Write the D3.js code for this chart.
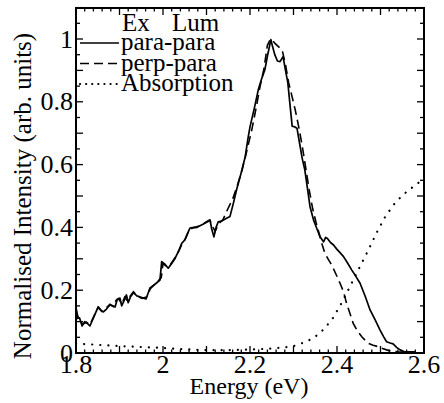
<!DOCTYPE html>
<html><head><meta charset="utf-8">
<script src="https://cdn.jsdelivr.net/npm/d3@7/dist/d3.min.js"></script>
<style>body{margin:0;background:#fff}</style>
</head><body><svg id="c" width="444" height="403"></svg>
<script>
const paraE=[1.800,1.803,1.808,1.814,1.820,1.826,1.832,1.842,1.851,1.858,1.863,1.870,1.878,1.884,1.890,1.895,1.901,1.905,1.910,1.916,1.920,1.925,1.932,1.940,1.950,1.961,1.970,1.978,1.985,1.993,1.997,2.005,2.012,2.020,2.028,2.036,2.043,2.050,2.058,2.062,2.070,2.077,2.085,2.093,2.100,2.108,2.112,2.117,2.122,2.127,2.135,2.145,2.154,2.162,2.169,2.179,2.189,2.195,2.200,2.210,2.219,2.226,2.234,2.240,2.248,2.252,2.257,2.263,2.269,2.276,2.281,2.287,2.292,2.297,2.303,2.308,2.315,2.320,2.326,2.332,2.338,2.346,2.354,2.361,2.369,2.374,2.378,2.385,2.392,2.400,2.408,2.415,2.425,2.434,2.443,2.453,2.465,2.476,2.488,2.499,2.507,2.514,2.522,2.529,2.537,2.545,2.555,2.565,2.579];
const paraV=[0.148,0.110,0.112,0.086,0.100,0.094,0.086,0.118,0.147,0.135,0.131,0.140,0.153,0.150,0.147,0.172,0.175,0.150,0.165,0.185,0.160,0.178,0.192,0.182,0.177,0.172,0.207,0.215,0.223,0.232,0.291,0.282,0.270,0.285,0.302,0.325,0.349,0.360,0.386,0.398,0.400,0.402,0.405,0.411,0.418,0.424,0.395,0.370,0.400,0.418,0.420,0.428,0.435,0.478,0.519,0.570,0.625,0.680,0.720,0.780,0.838,0.870,0.901,0.945,0.998,0.975,0.950,0.930,0.928,0.944,0.905,0.860,0.790,0.722,0.720,0.716,0.660,0.620,0.583,0.525,0.466,0.424,0.395,0.370,0.354,0.368,0.365,0.352,0.344,0.330,0.318,0.307,0.285,0.264,0.245,0.222,0.180,0.137,0.105,0.073,0.052,0.036,0.032,0.029,0.018,0.010,0.004,0.004,0.004];
const perpE=[1.800,1.804,1.810,1.816,1.824,1.832,1.842,1.851,1.860,1.868,1.878,1.886,1.892,1.899,1.905,1.912,1.918,1.924,1.932,1.942,1.952,1.962,1.971,1.980,1.988,1.996,2.000,2.008,2.016,2.025,2.034,2.043,2.052,2.060,2.068,2.078,2.088,2.098,2.108,2.114,2.120,2.128,2.138,2.146,2.160,2.170,2.181,2.192,2.204,2.214,2.223,2.232,2.240,2.247,2.252,2.258,2.266,2.274,2.282,2.289,2.297,2.304,2.312,2.320,2.328,2.336,2.344,2.352,2.361,2.366,2.372,2.380,2.388,2.398,2.407,2.415,2.422,2.430,2.437,2.447,2.457,2.465,2.472,2.483,2.495,2.505,2.514,2.525,2.540,2.560];
const perpV=[0.140,0.118,0.100,0.092,0.098,0.090,0.120,0.145,0.132,0.142,0.155,0.148,0.168,0.172,0.155,0.178,0.166,0.180,0.195,0.180,0.174,0.178,0.205,0.218,0.228,0.240,0.285,0.275,0.280,0.298,0.318,0.345,0.365,0.392,0.398,0.400,0.408,0.415,0.422,0.402,0.388,0.412,0.425,0.450,0.490,0.530,0.578,0.640,0.710,0.780,0.848,0.905,0.980,1.000,0.995,0.985,0.975,0.965,0.915,0.860,0.815,0.774,0.720,0.660,0.590,0.520,0.460,0.415,0.370,0.345,0.318,0.298,0.280,0.250,0.222,0.195,0.158,0.125,0.095,0.070,0.052,0.040,0.031,0.025,0.020,0.014,0.010,0.006,0.004,0.003];
const absE=[1.80,1.85,1.90,1.95,2.00,2.05,2.10,2.15,2.20,2.25,2.28,2.30,2.33,2.35,2.37,2.39,2.41,2.43,2.45,2.47,2.49,2.51,2.53,2.55,2.57,2.59,2.60];
const absV=[0.030,0.026,0.022,0.019,0.016,0.012,0.009,0.009,0.011,0.014,0.018,0.022,0.036,0.052,0.076,0.110,0.158,0.212,0.268,0.322,0.380,0.432,0.472,0.502,0.524,0.545,0.552];
const xTicks=[1.8,2,2.2,2.4,2.6];
const xTickLabels=["1.8","2","2.2","2.4","2.6"];
const yTicks=[0,0.2,0.4,0.6,0.8,1];
const yTickLabels=["0","0.2","0.4","0.6","0.8","1"];
const legendLabels=["para-para","perp-para","Absorption"];
const legendHeader=["Ex","Lum"];

const svg=d3.select("#c");
const L=76,R=424,T=8,B=353;
const x=d3.scaleLinear().domain([1.8,2.6]).range([L,R]);
const y=d3.scaleLinear().domain([0,1.1]).range([B,B-1.1*314]);

svg.append("rect").attr("x",L).attr("y",T).attr("width",R-L).attr("height",B-T)
  .attr("fill","none").attr("stroke","#000").attr("stroke-width",2);

const xMinor=d3.range(0,41).map(i=>1.8+i*0.02);
const yMinor=d3.range(0,23).map(i=>i*0.05);
const isMaj=v=>Math.abs(v*10-Math.round(v*10))<1e-6;
const tk=svg.append("g").attr("stroke","#000").attr("stroke-width",1.3);
xMinor.forEach(v=>{const len=isMaj(v)?7:3.5;const px=x(v);
  tk.append("line").attr("x1",px).attr("x2",px).attr("y1",B).attr("y2",B-len);
  tk.append("line").attr("x1",px).attr("x2",px).attr("y1",T).attr("y2",T+len);});
yMinor.forEach(v=>{if(v>1.1)return;const len=isMaj(v)?7:4;const py=y(v);
  tk.append("line").attr("x1",L).attr("x2",L+len).attr("y1",py).attr("y2",py);
  tk.append("line").attr("x1",R).attr("x2",R-len).attr("y1",py).attr("y2",py);});

const line=d3.line().x(d=>x(d[0])).y(d=>y(d[1]));
const g=svg.append("g").attr("fill","none").attr("stroke","#000");
g.append("path").datum(absE.map((e,i)=>[e,absV[i]])).attr("d",line).attr("stroke-width",2.2)
  .attr("stroke-dasharray","0.1,8").attr("stroke-linecap","round");
g.append("path").datum(perpE.map((e,i)=>[e,perpV[i]])).attr("d",line).attr("stroke-width",1.6)
  .attr("stroke-dasharray","9,5");
g.append("path").datum(paraE.map((e,i)=>[e,paraV[i]])).attr("d",line).attr("stroke-width",1.7)
  .attr("stroke-linejoin","round");

const dashes=[null,"9,5","0.1,6"];
legendLabels.forEach((t,i)=>{const yy=43+i*20.5;
  const ln=svg.append("line").attr("x1",80).attr("x2",119).attr("y1",yy).attr("y2",yy)
    .attr("stroke","#000").attr("stroke-width",i==2?2.2:1.4);
  if(dashes[i])ln.attr("stroke-dasharray",dashes[i]);
  if(i==2)ln.attr("stroke-linecap","round");});

const F="Liberation Serif";
xTicks.forEach((v,i)=>svg.append("text").attr("x",x(v)).attr("y",373).attr("text-anchor","middle")
  .attr("font-size",26).style("font-family",F).text(xTickLabels[i]));
yTicks.forEach((v,i)=>svg.append("text").attr("x",73).attr("y",y(v)+8.5).attr("text-anchor","end")
  .attr("font-size",26).style("font-family",F).text(yTickLabels[i]));
svg.append("text").attr("x",249).attr("y",394).attr("text-anchor","middle").attr("font-size",24)
  .style("font-family",F).text("Energy (eV)");
svg.append("text").attr("transform","translate(31,196) rotate(-90)").attr("text-anchor","middle")
  .attr("font-size",25).style("font-family",F).text("Normalised Intensity (arb. units)");
svg.append("text").attr("x",122).attr("y",31).attr("font-size",25).style("font-family",F).text(legendHeader[0]);
svg.append("text").attr("x",172).attr("y",31).attr("font-size",25).style("font-family",F).text(legendHeader[1]);
legendLabels.forEach((t,i)=>svg.append("text").attr("x",121).attr("y",50+i*20.5).attr("font-size",25)
  .style("font-family",F).text(t));
</script></body></html>
